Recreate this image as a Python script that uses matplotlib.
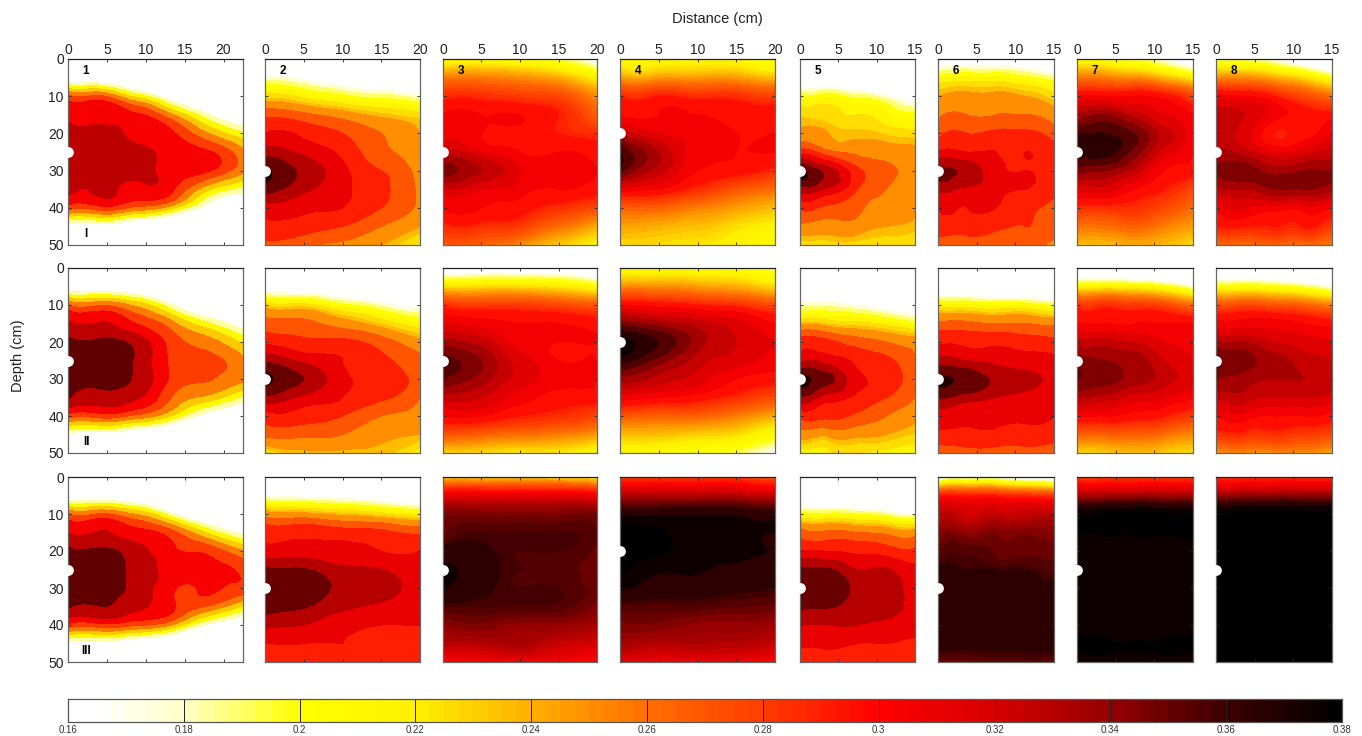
import numpy as np
import matplotlib
matplotlib.use('Agg')
import matplotlib.pyplot as plt
import matplotlib.tri as tri
from matplotlib.colors import LinearSegmentedColormap, Normalize

plt.rcParams['font.family'] = ['Liberation Sans', 'DejaVu Sans']

depths = [0, 5, 10, 15, 20, 25, 30, 35, 40, 45, 50]
x_max = [22.5, 20, 20, 20, 15, 15, 15, 15]
x_ticks = [[0, 5, 10, 15, 20], [0, 5, 10, 15, 20], [0, 5, 10, 15, 20], [0, 5, 10, 15, 20],
           [0, 5, 10, 15], [0, 5, 10, 15], [0, 5, 10, 15], [0, 5, 10, 15]]
y_ticks = [0, 10, 20, 30, 40, 50]
source_depth = [25, 30, 25, 20, 30, 30, 25, 25]
row_names = ['I', 'II', 'III']
cbar_ticks = [0.16, 0.18, 0.2, 0.22, 0.24, 0.26, 0.28, 0.3, 0.32, 0.34, 0.36, 0.38]
cbar_labels = ['0.16', '0.18', '0.2', '0.22', '0.24', '0.26', '0.28', '0.3', '0.32', '0.34', '0.36', '0.38']

# colours at the bottom
cmap_values = [0.16, 0.165, 0.18, 0.20, 0.22, 0.24, 0.26, 0.28, 0.30, 0.32, 0.34, 0.36, 0.38]
cmap_colors = ['#ffffff', '#ffffff', '#ffffc8', '#ffff00', '#fff000', '#ffaf00', '#ff6e00',
               '#ff3c00', '#ff0000', '#d70000', '#960000', '#3c0000', '#000000']

# each list is one column of the panel (left to right), values go down the depths
p_1_1 = [[.09, .135, .275, .312, .325, .33, .33, .322, .28, .15, .09],
         [.08, .13, .27, .31, .325, .33, .33, .32, .285, .15, .08],
         [.07, .09, .21, .295, .31, .322, .322, .31, .26, .12, .07],
         [.05, .06, .14, .245, .295, .305, .305, .295, .225, .09, .06],
         [.04, .04, .09, .175, .245, .295, .295, .225, .15, .07, .04],
         [.02, .02, .05, .12, .20, .25, .25, .185, .10, .04, .02]]
p_1_2 = [[.10, .175, .225, .275, .30, .33, .365, .35, .31, .295, .275],
         [.09, .165, .215, .265, .295, .315, .335, .325, .305, .29, .265],
         [.07, .145, .20, .25, .28, .295, .305, .305, .30, .28, .255],
         [.06, .13, .19, .235, .26, .265, .28, .285, .28, .26, .24],
         [.05, .11, .175, .225, .24, .25, .25, .255, .255, .24, .215]]
p_1_3 = [[.20, .255, .285, .30, .305, .32, .345, .315, .30, .285, .27],
         [.205, .255, .285, .30, .30, .31, .33, .31, .30, .285, .265],
         [.20, .25, .28, .30, .295, .30, .31, .305, .295, .28, .25],
         [.19, .24, .275, .29, .29, .30, .305, .30, .285, .26, .23],
         [.16, .215, .25, .265, .285, .295, .30, .295, .275, .24, .215]]
p_1_4 = [[.21, .245, .29, .30, .33, .36, .355, .305, .265, .245, .225],
         [.21, .245, .29, .30, .31, .33, .325, .30, .265, .24, .225],
         [.21, .245, .285, .30, .305, .305, .30, .285, .255, .235, .22],
         [.21, .245, .285, .295, .30, .30, .295, .27, .245, .225, .215],
         [.195, .235, .28, .295, .30, .30, .285, .26, .235, .215, .205]]
p_1_5 = [[.10, .13, .205, .23, .245, .29, .365, .33, .285, .255, .225],
         [.10, .13, .205, .225, .24, .265, .33, .315, .275, .25, .225],
         [.09, .12, .19, .22, .235, .255, .285, .28, .265, .25, .225],
         [.07, .10, .175, .21, .23, .25, .265, .26, .255, .24, .225],
         [.05, .08, .155, .20, .225, .245, .25, .25, .245, .235, .22]]
p_1_6 = [[.14, .205, .24, .255, .275, .30, .345, .325, .30, .295, .265],
         [.15, .21, .245, .26, .28, .30, .335, .315, .30, .29, .265],
         [.15, .21, .245, .26, .285, .30, .305, .305, .30, .285, .265],
         [.14, .20, .24, .26, .285, .30, .30, .30, .285, .28, .265],
         [.115, .185, .225, .25, .27, .29, .295, .285, .275, .27, .255]]
p_1_7 = [[.205, .255, .30, .33, .36, .365, .345, .315, .285, .26, .235],
         [.20, .255, .30, .34, .36, .365, .34, .315, .285, .26, .235],
         [.19, .25, .30, .325, .35, .345, .325, .30, .285, .265, .24],
         [.17, .235, .295, .31, .325, .315, .30, .29, .275, .255, .235],
         [.14, .215, .275, .30, .30, .30, .295, .275, .26, .245, .225]]
p_1_8 = [[.19, .25, .305, .325, .325, .33, .34, .325, .30, .29, .26],
         [.185, .25, .30, .32, .315, .325, .345, .33, .31, .29, .26],
         [.17, .24, .29, .305, .29, .31, .335, .34, .305, .29, .265],
         [.14, .225, .275, .295, .295, .315, .34, .34, .305, .29, .26],
         [.10, .20, .26, .295, .31, .325, .34, .335, .30, .28, .255]]

p_2_1 = [[.09, .14, .27, .32, .345, .35, .35, .342, .28, .16, .09],
         [.08, .14, .265, .318, .345, .35, .35, .33, .28, .155, .085],
         [.07, .115, .235, .29, .33, .335, .335, .318, .26, .13, .07],
         [.05, .08, .17, .25, .28, .285, .285, .265, .215, .10, .05],
         [.04, .06, .115, .20, .255, .275, .27, .235, .15, .07, .04],
         [.02, .04, .08, .15, .215, .25, .25, .19, .115, .05, .02]]
p_2_2 = [[.10, .15, .23, .27, .295, .335, .365, .335, .29, .265, .22],
         [.09, .14, .225, .265, .285, .315, .34, .315, .29, .265, .235],
         [.08, .125, .20, .25, .285, .30, .305, .30, .28, .26, .235],
         [.07, .11, .18, .23, .27, .285, .295, .285, .26, .245, .235],
         [.05, .085, .16, .21, .245, .265, .27, .26, .25, .24, .21]]
p_2_3 = [[.14, .225, .285, .31, .335, .355, .35, .325, .30, .27, .225],
         [.15, .225, .28, .305, .325, .34, .335, .32, .30, .265, .225],
         [.15, .225, .28, .30, .305, .315, .315, .305, .29, .26, .22],
         [.15, .22, .275, .30, .30, .30, .305, .295, .285, .255, .22],
         [.13, .205, .27, .295, .30, .30, .30, .295, .275, .245, .205]]
p_2_4 = [[.205, .25, .30, .345, .375, .365, .335, .305, .27, .235, .21],
         [.205, .25, .295, .335, .36, .345, .325, .30, .265, .235, .205],
         [.205, .245, .29, .325, .335, .325, .315, .295, .265, .23, .20],
         [.205, .24, .285, .315, .32, .315, .30, .285, .255, .225, .19],
         [.19, .225, .275, .30, .31, .305, .295, .275, .24, .205, .165]]
p_2_5 = [[.10, .13, .18, .235, .29, .31, .365, .335, .285, .25, .21],
         [.09, .125, .18, .23, .285, .31, .345, .31, .285, .245, .215],
         [.08, .115, .17, .225, .27, .295, .305, .295, .275, .245, .22],
         [.07, .10, .155, .215, .26, .285, .295, .28, .26, .24, .215],
         [.05, .08, .135, .20, .25, .26, .26, .26, .245, .23, .205]]
p_2_6 = [[.08, .13, .215, .265, .295, .325, .365, .34, .31, .295, .265],
         [.07, .13, .21, .265, .295, .32, .355, .33, .305, .295, .27],
         [.07, .125, .205, .26, .295, .315, .335, .32, .305, .295, .27],
         [.06, .12, .205, .26, .29, .31, .325, .315, .303, .293, .27],
         [.05, .11, .195, .255, .285, .305, .315, .305, .30, .29, .265]]
p_2_7 = [[.12, .215, .285, .30, .325, .345, .35, .33, .30, .265, .225],
         [.12, .215, .285, .30, .325, .34, .345, .325, .30, .265, .23],
         [.11, .21, .28, .30, .32, .335, .335, .315, .295, .265, .235],
         [.09, .20, .275, .30, .31, .32, .325, .31, .29, .26, .23],
         [.07, .175, .26, .30, .305, .31, .315, .30, .28, .25, .225]]
p_2_8 = [[.12, .205, .275, .305, .33, .355, .34, .325, .30, .285, .245],
         [.12, .205, .275, .305, .33, .345, .335, .325, .305, .285, .25],
         [.11, .20, .27, .305, .32, .335, .33, .32, .30, .285, .25],
         [.09, .19, .265, .30, .315, .325, .33, .32, .30, .28, .25],
         [.07, .17, .255, .295, .31, .32, .325, .315, .295, .275, .24]]

p_3_1 = [[.09, .14, .27, .315, .345, .35, .35, .342, .285, .16, .09],
         [.08, .14, .27, .318, .345, .35, .35, .34, .285, .155, .085],
         [.07, .115, .24, .30, .325, .33, .33, .32, .27, .13, .07],
         [.05, .08, .175, .275, .295, .305, .295, .295, .24, .10, .05],
         [.04, .06, .12, .215, .285, .30, .295, .265, .165, .07, .04],
         [.02, .04, .085, .16, .245, .285, .285, .215, .125, .05, .02]]
p_3_2 = [[.10, .17, .25, .295, .305, .345, .358, .35, .325, .30, .30],
         [.09, .165, .245, .295, .31, .342, .355, .342, .32, .30, .295],
         [.085, .16, .235, .29, .305, .325, .335, .325, .305, .30, .295],
         [.08, .15, .225, .285, .30, .32, .33, .315, .30, .295, .29],
         [.05, .125, .215, .275, .30, .305, .305, .305, .30, .295, .285]]
p_3_3 = [[.23, .31, .345, .35, .365, .372, .372, .357, .34, .33, .30],
         [.23, .31, .345, .357, .362, .365, .362, .357, .345, .33, .305],
         [.23, .31, .345, .357, .357, .357, .357, .356, .34, .333, .31],
         [.225, .31, .345, .357, .357, .355, .357, .355, .34, .325, .305],
         [.215, .305, .345, .352, .35, .348, .35, .345, .335, .32, .30]]
p_3_4 = [[.28, .33, .368, .385, .385, .382, .372, .355, .345, .335, .315],
         [.28, .33, .368, .382, .382, .372, .365, .355, .345, .33, .31],
         [.28, .33, .368, .372, .372, .371, .365, .355, .34, .332, .31],
         [.28, .33, .368, .372, .372, .368, .362, .352, .34, .33, .31],
         [.27, .325, .366, .37, .37, .366, .36, .35, .335, .325, .30]]
p_3_5 = [[.10, .13, .205, .27, .30, .345, .36, .345, .32, .305, .285],
         [.09, .125, .20, .265, .30, .342, .355, .342, .32, .305, .285],
         [.09, .12, .195, .26, .295, .32, .335, .33, .32, .30, .285],
         [.075, .11, .185, .255, .29, .322, .33, .328, .315, .30, .285],
         [.06, .095, .175, .25, .285, .305, .315, .315, .31, .295, .28]]
p_3_6 = [[.15, .29, .32, .34, .35, .363, .366, .366, .366, .366, .35],
         [.17, .29, .32, .34, .355, .36, .363, .366, .366, .363, .35],
         [.17, .29, .325, .345, .35, .36, .363, .366, .366, .363, .355],
         [.15, .285, .325, .345, .35, .36, .363, .366, .366, .363, .355],
         [.14, .28, .325, .34, .35, .355, .363, .366, .366, .366, .35]]
p_3_7 = [[.28, .335, .382, .382, .376, .374, .374, .374, .374, .382, .374],
         [.28, .335, .382, .382, .376, .374, .374, .374, .374, .382, .374],
         [.28, .335, .382, .382, .376, .374, .374, .374, .374, .381, .374],
         [.28, .335, .382, .382, .376, .374, .374, .374, .374, .382, .374],
         [.28, .335, .382, .382, .376, .374, .374, .374, .374, .382, .374]]
p_3_8 = [[.285, .34, .385, .39, .39, .39, .39, .39, .39, .39, .39],
         [.285, .34, .385, .39, .39, .39, .39, .39, .39, .39, .39],
         [.285, .34, .385, .39, .39, .39, .39, .39, .39, .39, .39],
         [.285, .34, .385, .39, .39, .39, .39, .39, .39, .39, .39],
         [.285, .34, .385, .39, .39, .39, .39, .39, .39, .39, .39]]

panels = [[p_1_1, p_1_2, p_1_3, p_1_4, p_1_5, p_1_6, p_1_7, p_1_8],
          [p_2_1, p_2_2, p_2_3, p_2_4, p_2_5, p_2_6, p_2_7, p_2_8],
          [p_3_1, p_3_2, p_3_3, p_3_4, p_3_5, p_3_6, p_3_7, p_3_8]]

W, H = 1362, 736
col_px = [(68, 243), (265, 420), (443, 597), (620, 775), (800, 915), (938, 1054), (1077, 1193), (1216, 1332)]
row_px = [(59, 245), (268, 453), (477, 662)]


def px_axes(fig, x0, x1, y0, y1):
    return fig.add_axes([x0 / W, 1 - y1 / H, (x1 - x0) / W, (y1 - y0) / H])


def band_levels(r, c):
    # the wet side of a panel has wider bands than the steep top edge
    if c == 0:
        return np.arange(0.172, 0.40, 0.024)
    if r == 2 and c in (2, 3, 5, 6, 7):
        return np.r_[np.arange(0.172, 0.36, 0.005), np.arange(0.36, 0.40, 0.01)]
    if c in (2, 3, 6, 7):
        return np.r_[np.arange(0.172, 0.29, 0.005), np.arange(0.29, 0.40, 0.01)]
    return np.r_[np.arange(0.172, 0.24, 0.012), np.arange(0.24, 0.40, 0.02)]


cmap = LinearSegmentedColormap.from_list(
    'bar', [((v - 0.16) / 0.22, c) for v, c in zip(cmap_values, cmap_colors)], N=512)
cmap.set_under('white')
cmap.set_over('black')
norm = Normalize(0.16, 0.38)

fig = plt.figure(figsize=(W / 100, H / 100), dpi=100)

for r in range(3):
    for c in range(8):
        ax = px_axes(fig, col_px[c][0], col_px[c][1], row_px[r][0], row_px[r][1])
        z = np.array(panels[r][c]).T
        xs = np.linspace(0, x_max[c], z.shape[1])
        X, Y = np.meshgrid(xs, depths)
        t = tri.Triangulation(X.ravel(), Y.ravel())
        # smooth contours, the grid
        t2, z2 = tri.UniformTriRefiner(t).refine_field(z.ravel(), subdiv=3)
        ax.tricontourf(t2, z2, levels=band_levels(r, c), cmap=cmap, norm=norm, extend='both', antialiased=False)
        ax.set_xlim(0, x_max[c])
        ax.set_ylim(50, 0)
        ax.set_xticks(x_ticks[c])
        ax.set_yticks(y_ticks)
        ax.tick_params(direction='in', length=2, width=0.6, top=True, right=True,
                       bottom=True, labelbottom=False, labeltop=(r == 0),
                       labelleft=(c == 0), labelsize=10, pad=1.5, colors='#222222')
        ax.tick_params(axis='y', pad=3)
        for s in ax.spines.values():
            s.set_color('#666666')
            s.set_linewidth(0.9)
        ax.spines['top'].set_color('#222222')
        ax.scatter([0], [source_depth[c]], s=60, c='white', clip_on=False, zorder=5, linewidths=0)
        if r == 0:
            ax.annotate(str(c + 1), xy=(0, 1), xycoords='axes fraction', xytext=(13, -9),
                        textcoords='offset points', fontsize=8.5, fontweight='bold',
                        ha='center', va='center')
        if c == 0:
            ax.annotate(row_names[r], xy=(0, 0), xycoords='axes fraction', xytext=(13, 8),
                        textcoords='offset points', fontsize=8.5, fontweight='bold',
                        ha='center', va='center')

fig.text(717 / W, 1 - 19 / H, 'Distance (cm)', ha='center', va='center', fontsize=10.5, color='#222222')
fig.text(18 / W, 1 - 356 / H, 'Depth (cm)', ha='center', va='center', rotation=90, fontsize=10.5, color='#222222')

cax = px_axes(fig, 68, 1342, 699, 722)
edges = np.arange(0.16, 0.3801, 0.0025)
cax.pcolormesh(edges, [0, 1], ((edges[:-1] + edges[1:]) / 2)[None, :], cmap=cmap, norm=norm)
cax.set_xlim(0.16, 0.38)
cax.set_ylim(0, 1)
cax.set_yticks([])
cax.set_xticks(cbar_ticks)
cax.set_xticklabels(cbar_labels)
cax.tick_params(axis='x', direction='in', length=16.5, width=0.7, labelsize=7, pad=2.5,
                color='#222222', labelcolor='#333333')
for s in cax.spines.values():
    s.set_color('#555555')
    s.set_linewidth(0.9)

fig.savefig('out.png', dpi=100)
